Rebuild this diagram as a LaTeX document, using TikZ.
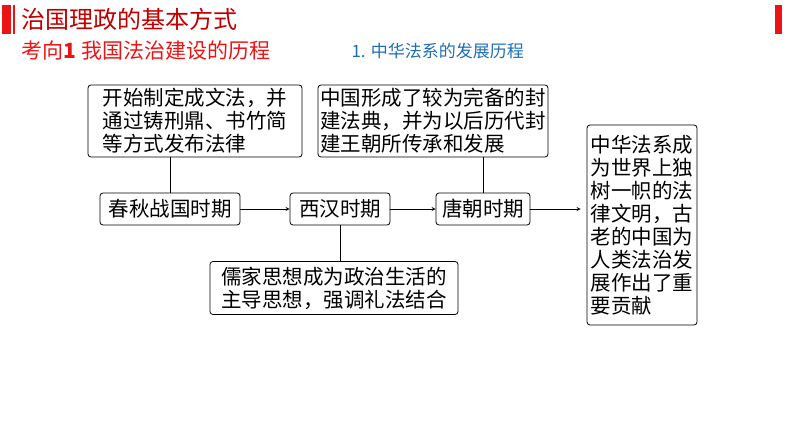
\documentclass[tikz,border=0pt]{standalone}
\usepackage{fontspec}
\newfontfamily\cjk{Noto Sans CJK SC}
\usetikzlibrary{positioning}
\definecolor{hdred}{RGB}{192,0,0}
\definecolor{barred}{RGB}{235,20,20}
\definecolor{subblue}{RGB}{30,110,180}
\tikzset{
  txtbox/.style={draw, thick, rounded corners=3pt, inner sep=2pt, align=left,
                 font=\cjk\fontsize{20.5}{23}\selectfont},
  period/.style={draw, thick, rounded corners=3pt, inner sep=2pt,
                 font=\cjk\fontsize{20.5}{23}\selectfont},
  link/.style={thick},
  flow/.style={thick, ->, >=stealth}
}
\begin{document}
\begin{tikzpicture}[x=1pt,y=1pt]
  \useasboundingbox (0,0) rectangle (794,-446);
  % header
  \fill [barred] (2,-5) rectangle (11,-34);
  \fill [barred] (13,-5) rectangle (15,-34);
  \fill [barred] (775,-5) rectangle (782,-34);
  \node [anchor=west, text=hdred, font=\cjk\fontsize{24}{26}\selectfont] (title) at (18,-19) {治国理政的基本方式};
  \node [anchor=west, text=barred, font=\cjk\fontsize{21}{24}\selectfont] (sub) at (18,-51) {考向\textbf{1} 我国法治建设的历程};
  \node [anchor=west, text=subblue, font=\cjk\fontsize{17}{20}\selectfont] (sec) at (348,-51) {1. 中华法系的发展历程};

  % boxes
  \node [txtbox, minimum width=214, minimum height=72] (laws) at (195,-121)
        {开始制定成文法，并\\通过铸刑鼎、书竹简\\等方式发布法律};
  \node [txtbox, minimum width=230, minimum height=72] (code) at (433,-121)
        {中国形成了较为完备的封\\建法典，并为以后历代封\\建王朝所传承和发展};
  \node [period, minimum width=140, minimum height=32] (chunqiu) at (170,-209) {春秋战国时期};
  \node [period, minimum width=100, minimum height=32] (xihan) at (340,-209) {西汉时期};
  \node [period, minimum width=94, minimum height=32] (tang) at (483,-209) {唐朝时期};
  \node [txtbox, minimum width=248, minimum height=53] (ru) at (334,-288)
        {儒家思想成为政治生活的\\主导思想，强调礼法结合};
  \node [txtbox, minimum width=110, minimum height=200] (world) at (642,-225)
        {中华法系成\\为世界上独\\树一帜的法\\律文明，古\\老的中国为\\人类法治发\\展作出了重\\要贡献};

  % connectors
  \draw [link] (laws.south -| chunqiu.north) -- (chunqiu.north);
  \draw [link] (code.south -| tang.north) -- (tang.north);
  \draw [link] (xihan.south) -- (xihan.south |- ru.north);
  \draw [flow] (chunqiu) -- (xihan);
  \draw [flow] (xihan) -- (tang);
  \draw [flow] (tang.east) -- ([xshift=-6pt]world.west |- tang.east);
\end{tikzpicture}
\end{document}
